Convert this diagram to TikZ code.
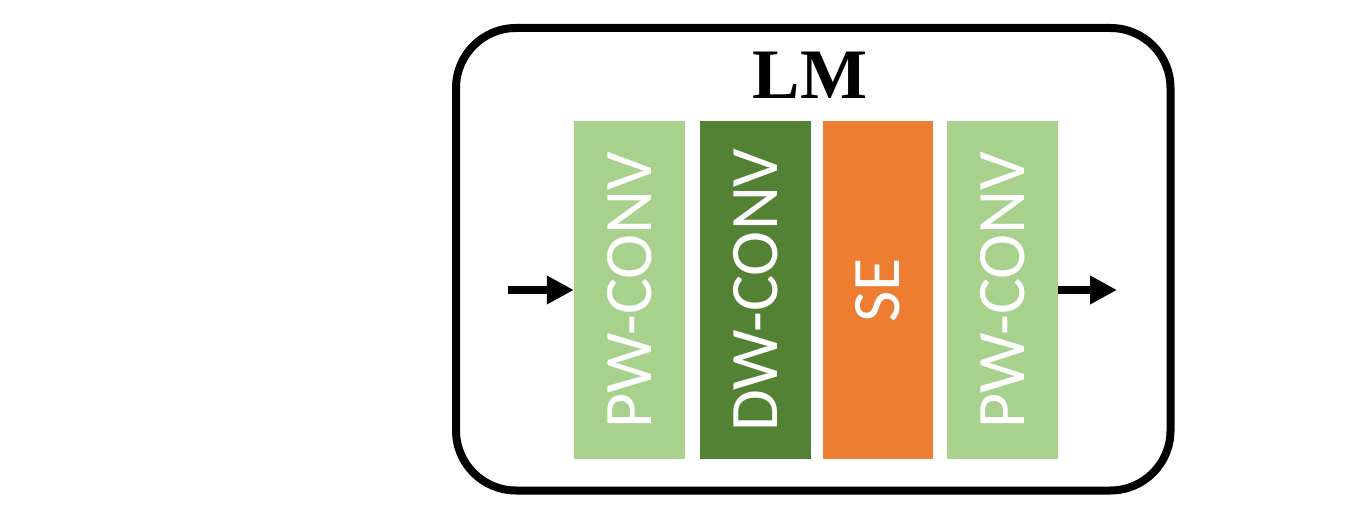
\documentclass[tikz,border=0pt]{standalone}
\usepackage{fontspec}
\setmainfont{Liberation Serif}
\newfontfamily\boxfont{Carlito}
\usetikzlibrary{arrows.meta}
\definecolor{lightgr}{HTML}{A9D18E}
\definecolor{darkgr}{HTML}{548235}
\definecolor{seorange}{HTML}{ED7D31}
\tikzset{
  layerbox/.style={rotate=90, minimum width=338pt, minimum height=111pt, inner sep=0pt,
    text=white, font=\boxfont\fontsize{68}{80}\selectfont},
  arr/.style={line width=8.5pt, -{Triangle[length=27pt,width=27pt]}},
}
\begin{document}
\begin{tikzpicture}[x=1pt,y=1pt]
\useasboundingbox (0,0) rectangle (1346,506);
\node[draw, line width=8pt, rounded corners=60pt, minimum width=714.5pt, minimum height=462.5pt, inner sep=0pt] (lm) at (813.25,246.75) {};
\node[anchor=base, font=\bfseries\fontsize{71}{80}\selectfont] (title) at (810,407) {LM};
\node[layerbox, fill=lightgr] (b1) at (629.5,216) {PW-CONV};
\node[layerbox, fill=darkgr] (b2) at (755.5,216) {DW-CONV};
\node[layerbox, fill=seorange, minimum height=110pt] (b3) at (878,216) {SE};
\node[layerbox, fill=lightgr] (b4) at (1002.5,216) {PW-CONV};
\coordinate (in) at (508,216);
\coordinate (out) at (1117,216);
\draw[arr] (in) -- (b1.north);
\draw[arr] (b4.south) -- (out);
\end{tikzpicture}
\end{document}
